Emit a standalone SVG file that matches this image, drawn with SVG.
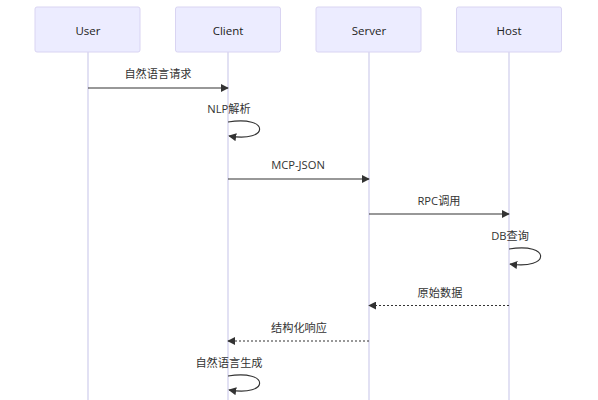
<svg xmlns="http://www.w3.org/2000/svg" width="598" height="400" viewBox="0 0 598 400">
<style>
.actor{fill:#ECECFF;stroke:#d9d4f2;stroke-width:1}
.life{stroke:#cfcdec;stroke-width:1.2}
.atext{font-family:"Open Sans","Noto Sans CJK SC",sans-serif;font-size:11.5px;fill:#222;text-anchor:middle;dominant-baseline:central}
.mtext{font-family:"Open Sans","Noto Sans CJK SC",sans-serif;font-size:11.2px;fill:#333;text-anchor:middle;dominant-baseline:central}
.msg{stroke:#333;stroke-width:1.1;fill:none}
.dash{stroke-dasharray:2,2}
</style>
<defs>
<marker id="arrow" viewBox="0 0 10 10" refX="9" refY="5" markerWidth="8" markerHeight="8" orient="auto-start-reverse" markerUnits="userSpaceOnUse">
<path d="M0,0 L10,5 L0,10 z" fill="#333"/>
</marker>
</defs>
<g id="lifelines">
<line class="life" x1="88" y1="52" x2="88" y2="400"/>
<line class="life" x1="228" y1="52" x2="228" y2="400"/>
<line class="life" x1="369" y1="52" x2="369" y2="400"/>
<line class="life" x1="509" y1="52" x2="509" y2="400"/>
</g>
<g id="User"><rect class="actor" x="35" y="7" width="105" height="45" rx="2"/><text class="atext" x="88" y="30">User</text></g>
<g id="Client"><rect class="actor" x="175.5" y="7" width="105" height="45" rx="2"/><text class="atext" x="228" y="30">Client</text></g>
<g id="Server"><rect class="actor" x="316" y="7" width="105" height="45" rx="2"/><text class="atext" x="369" y="30">Server</text></g>
<g id="Host"><rect class="actor" x="456.5" y="7" width="105" height="45" rx="2"/><text class="atext" x="509" y="30">Host</text></g>
<g id="connectors">
<text class="mtext" x="158" y="73">自然语言请求</text>
<line class="msg" x1="88" y1="88" x2="228" y2="88" marker-end="url(#arrow)"/>
<text class="mtext" x="229" y="108">NLP解析</text>
<path class="msg" d="M228,122 C270,115 270,143 229,136" marker-end="url(#arrow)"/>
<text class="mtext" x="298" y="164">MCP-JSON</text>
<line class="msg" x1="228" y1="179" x2="369" y2="179" marker-end="url(#arrow)"/>
<text class="mtext" x="439" y="200">RPC调用</text>
<line class="msg" x1="369" y1="214" x2="509" y2="214" marker-end="url(#arrow)"/>
<text class="mtext" x="510" y="235">DB查询</text>
<path class="msg" d="M509,249 C551,242 551,270 510,264" marker-end="url(#arrow)"/>
<text class="mtext" x="440" y="292">原始数据</text>
<line class="msg dash" x1="509" y1="305.5" x2="369" y2="305.5" marker-end="url(#arrow)"/>
<text class="mtext" x="299" y="327">结构化响应</text>
<line class="msg dash" x1="369" y1="341" x2="228" y2="341" marker-end="url(#arrow)"/>
<text class="mtext" x="229" y="362">自然语言生成</text>
<path class="msg" d="M228,376 C270,369 270,397 229,390" marker-end="url(#arrow)"/>
</g>
</svg>
